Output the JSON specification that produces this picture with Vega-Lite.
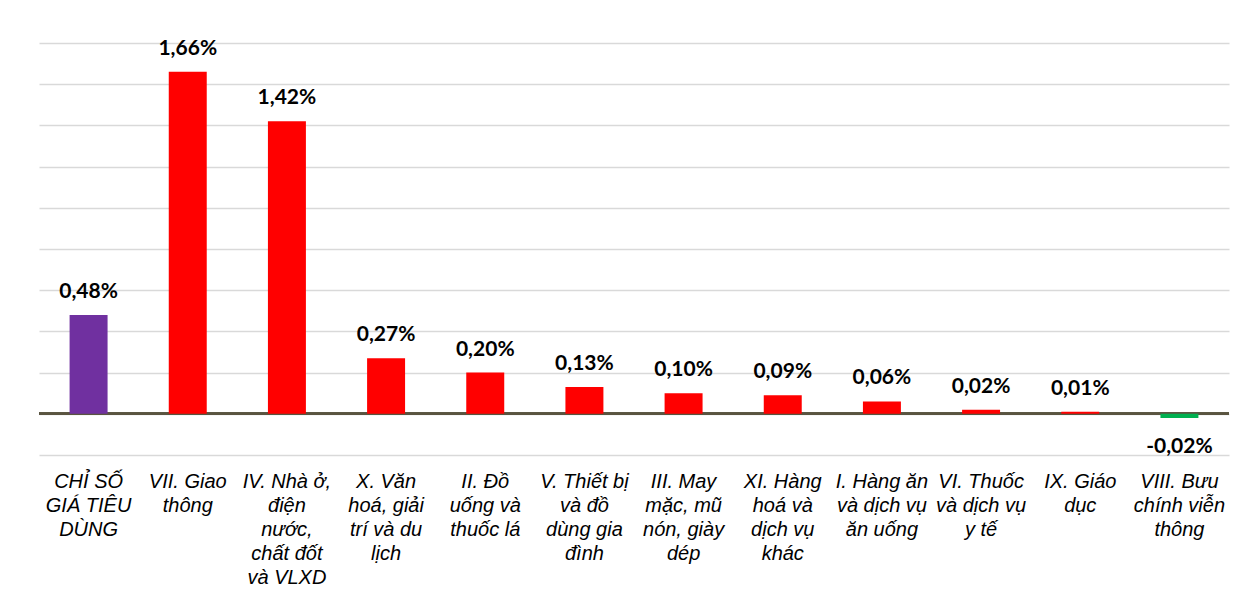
{
  "$schema": "https://vega.github.io/schema/vega-lite/v6.json",
  "width": 1190,
  "height": 412,
  "autosize": {"type": "none"},
  "padding": {"left": 39, "top": 43, "right": 18, "bottom": 144},
  "background": "white",
  "config": {"view": {"stroke": null}},
  "data": {
    "values": [
      {"cat": "CHỈ SỐ|GIÁ TIÊU|DÙNG", "value": 0.48, "label": "0,48%", "kind": "total"},
      {"cat": "VII. Giao|thông", "value": 1.66, "label": "1,66%", "kind": "up"},
      {"cat": "IV. Nhà ở,|điện|nước,|chất đốt|và VLXD", "value": 1.42, "label": "1,42%", "kind": "up"},
      {"cat": "X. Văn|hoá, giải|trí và du|lịch", "value": 0.27, "label": "0,27%", "kind": "up"},
      {"cat": "II. Đồ|uống và|thuốc lá", "value": 0.20, "label": "0,20%", "kind": "up"},
      {"cat": "V. Thiết bị|và đồ|dùng gia|đình", "value": 0.13, "label": "0,13%", "kind": "up"},
      {"cat": "III. May|mặc, mũ|nón, giày|dép", "value": 0.10, "label": "0,10%", "kind": "up"},
      {"cat": "XI. Hàng|hoá và|dịch vụ|khác", "value": 0.09, "label": "0,09%", "kind": "up"},
      {"cat": "I. Hàng ăn|và dịch vụ|ăn uống", "value": 0.06, "label": "0,06%", "kind": "up"},
      {"cat": "VI. Thuốc|và dịch vụ|y tế", "value": 0.02, "label": "0,02%", "kind": "up"},
      {"cat": "IX. Giáo|dục", "value": 0.01, "label": "0,01%", "kind": "up"},
      {"cat": "VIII. Bưu|chính viễn|thông", "value": -0.02, "label": "-0,02%", "kind": "down"}
    ]
  },
  "encoding": {
    "x": {
      "field": "cat",
      "type": "nominal",
      "sort": null,
      "scale": {"paddingInner": 0.617, "paddingOuter": 0.3085},
      "axis": {
        "title": null,
        "labelAngle": 0,
        "labelExpr": "split(datum.label, '|')",
        "labelFont": "Liberation Sans",
        "labelFontStyle": "italic",
        "labelFontSize": 20,
        "labelLineHeight": 24,
        "labelColor": "#000000",
        "labelBaseline": "top",
        "labelPadding": 16,
        "labelLimit": 0,
        "ticks": false,
        "domain": false,
        "grid": false
      }
    }
  },
  "layer": [
    {
      "mark": {"type": "rule", "color": "#5a5440", "strokeWidth": 2},
      "encoding": {"y": {"datum": 0, "type": "quantitative", "scale": {"domain": [-0.2, 1.8], "nice": false}}, "x": {"value": 0}, "x2": {"value": 1190}}
    },
    {
      "mark": {"type": "bar"},
      "encoding": {
        "y": {
          "field": "value",
          "type": "quantitative",
          "scale": {"domain": [-0.2, 1.8], "nice": false},
          "axis": {
            "title": null,
            "labels": false,
            "ticks": false,
            "domain": false,
            "grid": true,
            "values": [-0.2, 0, 0.2, 0.4, 0.6, 0.8, 1.0, 1.2, 1.4, 1.6, 1.8],
            "gridColor": "#d9d9d9",
            "gridWidth": 1.5
          }
        },
        "color": {
          "field": "kind",
          "type": "nominal",
          "scale": {"domain": ["total", "up", "down"], "range": ["#7030A0", "#FF0000", "#00B050"]},
          "legend": null
        }
      }
    },
    {
      "transform": [{"filter": "datum.value >= 0"}],
      "mark": {"type": "text", "font": "Lato", "fontWeight": "bold", "fontSize": 21, "color": "#000000", "dy": -17, "baseline": "alphabetic"},
      "encoding": {
        "y": {"field": "value", "type": "quantitative"},
        "text": {"field": "label"}
      }
    },
    {
      "transform": [{"filter": "datum.value < 0"}],
      "mark": {"type": "text", "font": "Lato", "fontWeight": "bold", "fontSize": 21, "color": "#000000", "dy": 35, "baseline": "alphabetic"},
      "encoding": {
        "y": {"field": "value", "type": "quantitative"},
        "text": {"field": "label"}
      }
    }
  ]
}
